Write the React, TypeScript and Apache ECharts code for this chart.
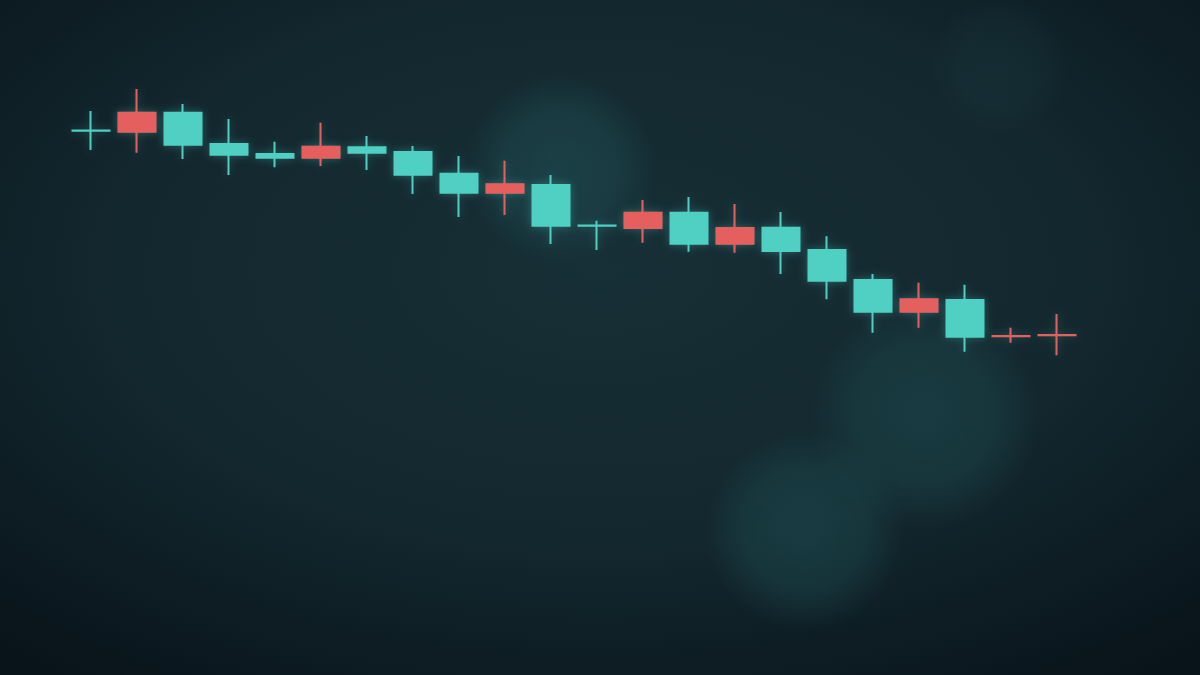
import React, { useEffect, useRef } from "react";
import * as echarts from "echarts";

const categories = [
  "D01", "D02", "D03", "D04", "D05", "D06", "D07", "D08", "D09", "D10", "D11",
  "D12", "D13", "D14", "D15", "D16", "D17", "D18", "D19", "D20", "D21", "D22",
];
// [open, close, low, high]
const opens = [54.45, 54.33, 56.23, 53.1, 52.1, 51.73, 52.77, 52.3, 50.13, 48.23, 49.0, 44.95, 44.7, 46.23, 43.13, 44.73, 42.5, 39.5, 36.33, 37.5, 33.88, 33.98];
const closes = [54.43, 56.23, 53.03, 52.03, 51.73, 52.83, 52.23, 50.03, 48.23, 49.07, 44.93, 44.93, 46.23, 43.13, 44.7, 42.4, 39.43, 36.33, 37.57, 33.83, 33.9, 34.0];
const lows = [52.5, 52.23, 51.6, 50.0, 50.77, 50.9, 50.5, 48.1, 45.8, 46.0, 43.1, 42.5, 43.23, 42.33, 42.23, 40.1, 37.57, 34.23, 34.73, 32.33, 33.23, 31.97];
const highs = [56.4, 58.6, 57.1, 55.6, 53.33, 55.23, 53.9, 52.9, 51.9, 51.43, 50.0, 45.43, 47.5, 47.8, 47.1, 46.3, 43.87, 40.1, 39.23, 39.03, 34.73, 36.1];

const UP = "#e65f5e";
const DOWN = "#4fd0c3";

function bokeh(cx: number, cy: number, r: number, a: number) {
  return {
    type: "circle",
    z: -9,
    silent: true,
    shape: { cx, cy, r },
    style: {
      fill: {
        type: "radial",
        x: 0.5,
        y: 0.5,
        r: 0.5,
        colorStops: [
          { offset: 0, color: `rgba(32,88,92,${a})` },
          { offset: 0.6, color: `rgba(32,88,92,${a * 0.75})` },
          { offset: 1, color: "rgba(32,88,92,0)" },
        ],
      },
    },
  };
}

export default function App() {
  const ref = useRef<HTMLDivElement>(null);
  useEffect(() => {
    if (!ref.current) return;
    const chart = echarts.init(ref.current, null, { renderer: "svg" });
    const data = categories.map((_, i) => [opens[i], closes[i], lows[i], highs[i]]);
    chart.setOption({
      animation: false,
      backgroundColor: "#11232a",
      graphic: [
        {
          type: "rect",
          z: -10,
          silent: true,
          shape: { x: 0, y: 0, width: 1200, height: 675 },
          style: {
            fill: {
              type: "radial",
              x: 0.5,
              y: 0.4,
              r: 0.75,
              colorStops: [
                { offset: 0, color: "#172f36" },
                { offset: 0.55, color: "#13272e" },
                { offset: 1, color: "#09131a" },
              ],
            },
          },
        },
        bokeh(560, 168, 95, 0.45),
        bokeh(805, 530, 100, 0.42),
        bokeh(925, 415, 115, 0.38),
        bokeh(1000, 65, 70, 0.14),
      ],
      grid: { left: 68, right: 120, top: 0, bottom: 0 },
      xAxis: {
        type: "category",
        data: categories,
        show: false,
        boundaryGap: true,
      },
      yAxis: {
        type: "value",
        min: 0,
        max: 67.5,
        show: false,
        splitLine: { show: false },
      },
      series: [
        {
          type: "candlestick",
          data,
          barWidth: 38,
          itemStyle: {
            color: UP,
            color0: DOWN,
            borderColor: UP,
            borderColor0: DOWN,
            borderWidth: 2,
            shadowBlur: 8,
            shadowColor: "rgba(79,208,195,0.35)",
          },
        },
      ],
    });
    return () => chart.dispose();
  }, []);
  return (
    <div
      ref={ref}
      style={{ position: "fixed", left: 0, top: 0, width: 1200, height: 675 }}
    />
  );
}
